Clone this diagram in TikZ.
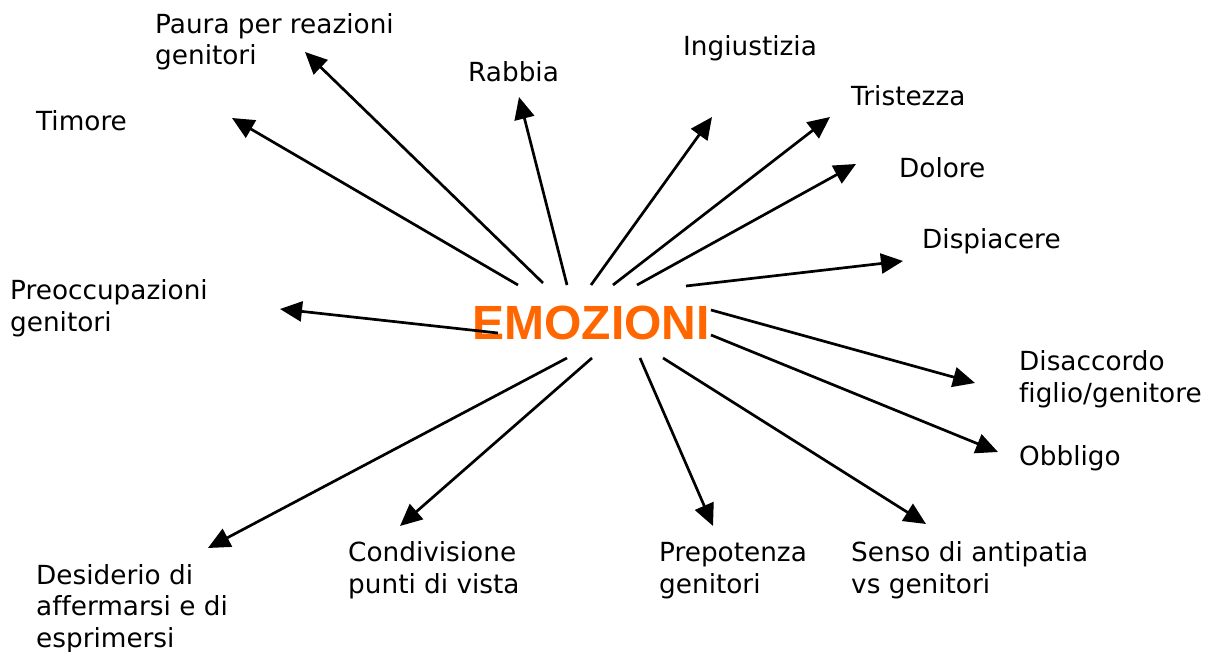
\documentclass[tikz,border=0pt]{standalone}
\usepackage{fontspec}
\setmainfont[Ligatures=NoCommon]{DejaVu Sans}
\newfontfamily\emofont{Liberation Sans}
\usetikzlibrary{arrows.meta}
\definecolor{emoorange}{HTML}{FF6600}
\tikzset{
  lbl/.style={anchor=base west, inner sep=0pt, align=left, font=\fontsize{26.3}{31.5}\selectfont},
  arr/.style={line width=2.7pt, -{Triangle[length=22pt,width=20pt]}},
}
\begin{document}
\begin{tikzpicture}[x=1pt,y=-1pt]
\useasboundingbox (0,0) rectangle (1205,652);
\node[anchor=base, inner sep=0pt, text=emoorange, font=\emofont\bfseries\fontsize{48}{56}\selectfont] (emo) at (591,340) {EMOZIONI};

\node[lbl] (paura) at (155,65) {Paura per reazioni\\genitori};
\node[lbl] (timore) at (36,131) {Timore};
\node[lbl] (rabbia) at (468,82) {Rabbia};
\node[lbl] (ingiu) at (683,56) {Ingiustizia};
\node[lbl] (trist) at (851,106) {Tristezza};
\node[lbl] (dolore) at (899,178) {Dolore};
\node[lbl] (dispi) at (922,249) {Dispiacere};
\node[lbl] (preocc) at (10,331) {Preoccupazioni\\genitori};
\node[lbl] (disacc) at (1019,402) {Disaccordo\\figlio/genitore};
\node[lbl] (obbl) at (1019,465) {Obbligo};
\node[lbl] (condiv) at (348,593) {Condivisione\\punti di vista};
\node[lbl] (prepot) at (659,593) {Prepotenza\\genitori};
\node[lbl] (senso) at (851,593) {Senso di antipatia\\vs genitori};
\node[lbl] (desid) at (36,647) {Desiderio di\\affermarsi e di\\esprimersi};

\coordinate (s1) at (518,285); \coordinate (e1) at (232,118);
\coordinate (s2) at (543,283); \coordinate (e2) at (305,52);
\coordinate (s3) at (567,285); \coordinate (e3) at (519,97);
\coordinate (s4) at (591,285); \coordinate (e4) at (712,117);
\coordinate (s5) at (613,285); \coordinate (e5) at (830,117);
\coordinate (s6) at (637,285); \coordinate (e6) at (856,164);
\coordinate (s7) at (686,286); \coordinate (e7) at (903,261);
\coordinate (s8) at (498,333); \coordinate (e8) at (280,309);
\coordinate (s9) at (711,310); \coordinate (e9) at (975,383);
\coordinate (s10) at (711,335); \coordinate (e10) at (998,452);
\coordinate (s11) at (663,358); \coordinate (e11) at (926,524);
\coordinate (s12) at (640,358); \coordinate (e12) at (713,526);
\coordinate (s13) at (592,358); \coordinate (e13) at (400,526);
\coordinate (s14) at (567,358); \coordinate (e14) at (208,548);

\foreach \i in {1,...,14} { \draw[arr] (s\i) -- (e\i); }
\end{tikzpicture}
\end{document}
